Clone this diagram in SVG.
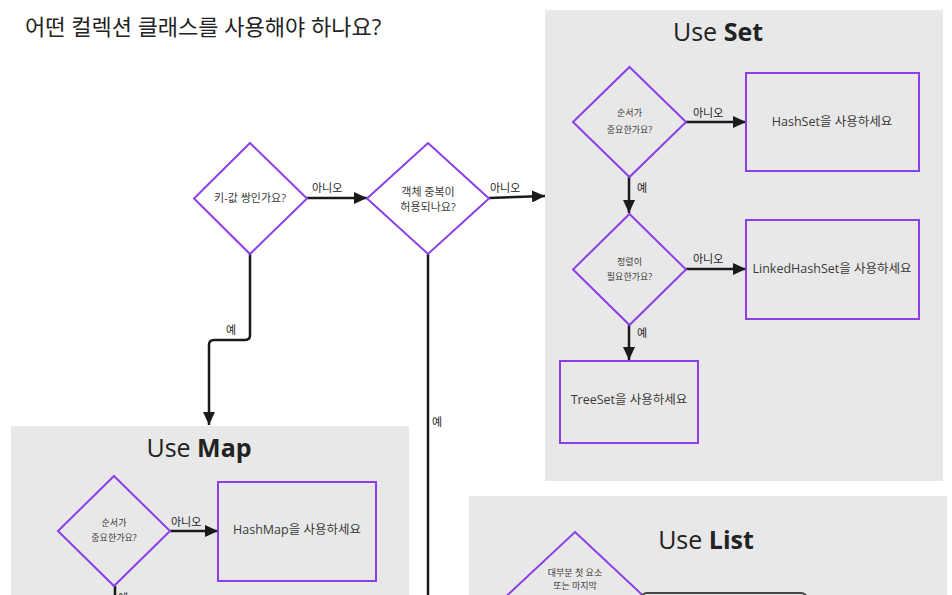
<svg xmlns="http://www.w3.org/2000/svg" width="952" height="595" viewBox="0 0 952 595">
<defs>
<marker id="arr" markerUnits="userSpaceOnUse" markerWidth="14" markerHeight="12" refX="13" refY="6" orient="auto">
<path d="M0,0 L13,6 L0,12 z" fill="#1a1a1a"/>
</marker>
</defs>
<style>
text{font-family:"Open Sans","Noto Sans CJK KR","Noto Sans",sans-serif;fill:#3a3a3a;}
.title{font-size:22px;fill:#222;}
.ct{font-size:25px;fill:#222;text-anchor:middle;}
.ct tspan.b{font-weight:bold;}
.cont{fill:#e8e8e8;}
.dia{fill:none;stroke:#8c3fe8;stroke-width:2;}
.box{fill:none;stroke:#8c3fe8;stroke-width:2;}
.t{text-anchor:middle;font-size:12.5px;}
.ts{text-anchor:middle;font-size:9px;}
.tm{text-anchor:middle;font-size:11px;}
.lbl{font-size:11px;fill:#222;}
.c{fill:none;stroke:#1a1a1a;stroke-width:2.5;}
.ca{fill:none;stroke:#1a1a1a;stroke-width:2.5;marker-end:url(#arr);}
</style>
<rect width="952" height="595" fill="#ffffff"/>
<text class="title" x="25" y="35">어떤 컬렉션 클래스를 사용해야 하나요?</text>

<g id="container-set">
<rect class="cont" x="545" y="10" width="398" height="471"/>
<text class="ct" x="718" y="41">Use <tspan class="b">Set</tspan></text>
</g>
<g id="container-map">
<rect class="cont" x="11" y="426" width="398" height="180"/>
<text class="ct" x="199" y="457">Use <tspan class="b">Map</tspan></text>
</g>
<g id="container-list">
<rect class="cont" x="469" y="496" width="478" height="110"/>
<text class="ct" x="706" y="549">Use <tspan class="b">List</tspan></text>
</g>

<g id="connectors">
<line class="ca" x1="307" y1="198" x2="367" y2="198"/>
<text class="lbl" x="312" y="192">아니오</text>
<line class="ca" x1="489" y1="198" x2="545" y2="196"/>
<text class="lbl" x="490" y="192">아니오</text>
<path class="ca" d="M250,254 V335 Q250,340 245,340 H214 Q209,340 209,345 V425"/>
<text class="lbl" x="226" y="334">예</text>
<path class="c" d="M428,254 V600"/>
<text class="lbl" x="432" y="426">예</text>
<line class="ca" x1="686" y1="122" x2="746" y2="122"/>
<text class="lbl" x="693" y="117">아니오</text>
<line class="ca" x1="629" y1="177" x2="629" y2="213"/>
<text class="lbl" x="637" y="192">예</text>
<line class="ca" x1="686" y1="269" x2="746" y2="269"/>
<text class="lbl" x="693" y="263">아니오</text>
<line class="ca" x1="629" y1="325" x2="629" y2="360"/>
<text class="lbl" x="637" y="337">예</text>
<line class="ca" x1="170" y1="531" x2="218" y2="531"/>
<text class="lbl" x="171" y="526">아니오</text>
<path class="c" d="M115,586 V600"/>
<text class="lbl" x="118" y="602">예</text>
</g>

<g id="d-keyvalue">
<polygon class="dia" points="250,143 307,198.5 250,254 194,198.5"/>
<text class="tm" x="250" y="202">키-값 쌍인가요?</text>
</g>
<g id="d-duplicate">
<polygon class="dia" points="428,143 489,198.5 428,254 367,198.5"/>
<text class="tm" x="428" y="196">객체 중복이</text>
<text class="tm" x="428" y="211">허용되나요?</text>
</g>
<g id="s-order">
<polygon class="dia" points="629.5,67 686,122 629.5,177 573,122"/>
<text class="ts" x="629.5" y="116">순서가</text>
<text class="ts" x="629.5" y="133">중요한가요?</text>
</g>
<g id="s-hashset">
<rect class="box" x="746" y="73" width="173" height="98"/>
<text class="t" x="832" y="126">HashSet을 사용하세요</text>
</g>
<g id="s-sort">
<polygon class="dia" points="629.5,214 686,269.5 629.5,325 573,269.5"/>
<text class="ts" x="629.5" y="265">정렬이</text>
<text class="ts" x="629.5" y="280">필요한가요?</text>
</g>
<g id="s-linkedhashset">
<rect class="box" x="746" y="220" width="173" height="99"/>
<text class="t" x="832" y="273">LinkedHashSet을 사용하세요</text>
</g>
<g id="s-treeset">
<rect class="box" x="560" y="361" width="138" height="82"/>
<text class="t" x="629" y="404">TreeSet을 사용하세요</text>
</g>
<g id="m-order">
<polygon class="dia" points="114,476 170,531 114,586 58,531"/>
<text class="ts" x="114" y="526">순서가</text>
<text class="ts" x="114" y="541">중요한가요?</text>
</g>
<g id="m-hashmap">
<rect class="box" x="218" y="482" width="158" height="99"/>
<text class="t" x="297" y="534">HashMap을 사용하세요</text>
</g>
<g id="l-access">
<polygon class="dia" points="575,532 652,604 575,676 498,604"/>
<text class="ts" x="575" y="576">대부분 첫 요소</text>
<text class="ts" x="575" y="589">또는 마지막</text>
</g>
<g id="l-box">
<rect x="641" y="593" width="166" height="40" rx="6" fill="none" stroke="#444" stroke-width="2"/>
</g>
</svg>
